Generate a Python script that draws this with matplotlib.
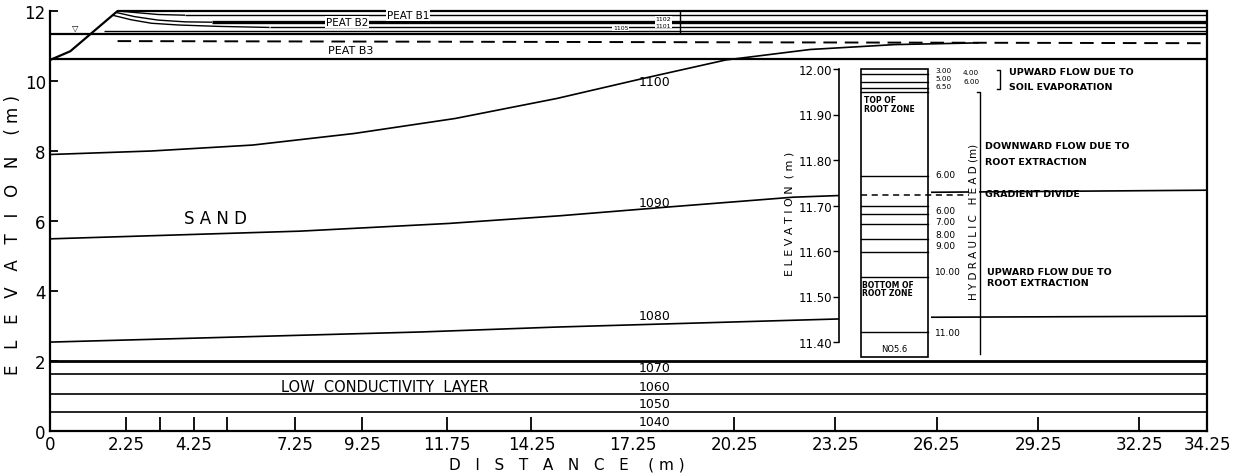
import matplotlib
matplotlib.use("Agg")
import matplotlib.pyplot as plt
from matplotlib.patches import Rectangle

plt.rcParams['font.family'] = ['DejaVu Sans']

# ---------------- cross-section data (m) ----------------
dist_ticks = [0, 2.25, 4.25, 7.25, 9.25, 11.75, 14.25, 17.25, 20.25, 23.25, 26.25, 29.25, 32.25, 34.25]
dist_labels = ["0", "2.25", "4.25", "7.25", "9.25", "11.75", "14.25", "17.25", "20.25",
               "23.25", "26.25", "29.25", "32.25", "34.25"]
dist_unmarked = [0, 17.25, 34.25]          # labelled positions drawn without a tick
dist_extra_marks = [3.25, 5.25]             # grid columns marked without a label
elev_ticks = [0, 2, 4, 6, 8, 10, 12]

# ground surface along the ditch bank and the peat
ground_x = [0.0, 0.6, 2.0, 34.25]
ground_y = [10.6, 10.85, 12.0, 12.0]

# horizontal boundaries / head lines inside the peat
peat_levels = [11.88, 11.68, 11.53, 11.44, 11.33]
peat_starts = [4.0, 4.8, 6.5, 1.6, 0.0]
peat_widths = [1.0, 2.4, 1.0, 1.0, 1.6]

# head contours bending up toward the ditch bank
bank_a_x = [2.0, 2.6, 3.2, 4.0]
bank_a_y = [12.0, 11.95, 11.9, 11.88]
bank_b_x = [1.95, 2.5, 3.2, 4.0, 4.8]
bank_b_y = [11.96, 11.84, 11.74, 11.69, 11.68]
bank_c_x = [1.85, 2.4, 3.0, 3.8, 5.0, 6.5]
bank_c_y = [11.88, 11.75, 11.65, 11.6, 11.56, 11.53]

water_table_x = [2.0, 34.25]
water_table_y = [11.14, 11.08]
peat_base = 10.62

# hydraulic head contours in the sand
head_1100_x = [0, 3, 6, 9, 12, 15, 17.5, 20, 22.5, 25, 27.5]
head_1100_y = [7.9, 8.0, 8.17, 8.5, 8.93, 9.5, 10.06, 10.6, 10.9, 11.04, 11.09]
head_1090_x = [0, 7.4, 11.8, 15.1, 18.3, 22.0, 26.0, 34.25]
head_1090_y = [5.49, 5.71, 5.93, 6.15, 6.4, 6.68, 6.82, 6.88]
head_1080_x = [0, 11, 15, 23.3, 26.0, 34.25]
head_1080_y = [2.54, 2.83, 2.97, 3.2, 3.25, 3.28]

# low conductivity layer lines
low_layer_levels = [2.0, 1.62, 1.07, 0.55]
low_layer_widths = [2.0, 1.2, 1.2, 1.2]

contour_text = ["1100", "1090", "1080", "1070", "1060", "1050", "1040"]
contour_text_y = [9.98, 6.52, 3.3, 1.82, 1.27, 0.78, 0.27]
contour_text_x = 17.9

# ---------------- root-zone column detail ----------------
col_top, col_bottom = 12.0, 11.367
col_lines = [11.990, 11.971, 11.958, 11.949, 11.765, 11.699, 11.681, 11.659,
             11.626, 11.598, 11.543, 11.422]
gradient_divide = 11.723
inset_ticks = [12.0, 11.9, 11.8, 11.7, 11.6, 11.5, 11.4]
inset_tick_labels = ["12.00", "11.90", "11.80", "11.70", "11.60", "11.50", "11.40"]
head_text = ["3.00", "5.00", "6.50", "6.00", "6.00", "7.00", "8.00", "9.00", "10.00", "11.00"]
head_text_y = [11.998, 11.980, 11.962, 11.769, 11.690, 11.665, 11.637, 11.612, 11.556, 11.420]
head_text_size = [5.2, 5.2, 5.2, 6.5, 6.5, 6.5, 6.5, 6.5, 6.5, 6.5]
head_text_right = ["4.00", "6.00"]
head_text_right_y = [11.994, 11.974]

fig = plt.figure(figsize=(12.38, 4.77), dpi=100)
W, H = 1238, 477
ax = fig.add_axes([50 / W, 45 / H, (1207 - 50) / W, (432 - 12) / H])
ax.set_xlim(0, 34.25)
ax.set_ylim(0, 12)
ax.spines['top'].set_visible(False)
for s in ('left', 'bottom', 'right'):
    ax.spines[s].set_linewidth(1.6)

ax.set_xticks(dist_ticks)
ax.set_xticklabels(dist_labels, fontsize=12)
ax.set_xticks(dist_extra_marks, minor=True)
ax.tick_params(axis='x', which='both', direction='in', length=10, width=1.3, pad=3)
for pos, tk in zip(dist_ticks, ax.xaxis.get_major_ticks()):
    if pos in dist_unmarked:
        tk.tick1line.set_visible(False)
ax.set_yticks(elev_ticks)
ax.set_yticklabels([str(v) for v in elev_ticks], fontsize=12)
ax.tick_params(axis='y', direction='in', length=6, width=1.3, pad=3)

ax.set_xlabel("D   I   S   T   A   N   C   E    ( m )", fontsize=11)
ax.xaxis.set_label_coords(0.447, -0.06)
ax.set_ylabel("E   L   E   V   A   T   I   O   N    ( m )", fontsize=12)
ax.yaxis.set_label_coords(-0.024, 0.47)

k = dict(color='black', solid_capstyle='butt')
ax.plot(ground_x, ground_y, lw=1.6, clip_on=False, **k)
for lvl, x0, lw in zip(peat_levels, peat_starts, peat_widths):
    ax.plot([x0, 34.25], [lvl, lvl], lw=lw, **k)
for bx, by in ((bank_a_x, bank_a_y), (bank_b_x, bank_b_y), (bank_c_x, bank_c_y)):
    ax.plot(bx, by, lw=1.0, **k)
ax.plot(water_table_x, water_table_y, lw=1.4, color='black', dashes=(7, 4))
ax.plot([0, 34.25], [peat_base, peat_base], lw=1.6, **k)

ax.plot(head_1100_x, head_1100_y, lw=1.2, **k)
ax.plot(head_1090_x, head_1090_y, lw=1.2, **k)
ax.plot(head_1080_x, head_1080_y, lw=1.2, **k)
for lvl, lw in zip(low_layer_levels, low_layer_widths):
    ax.plot([0, 34.25], [lvl, lvl], lw=lw, **k)

for t, ty in zip(contour_text, contour_text_y):
    ax.text(contour_text_x, ty, t, fontsize=9, ha='center', va='center')

ax.text(4.9, 6.1, "S A N D", fontsize=12, ha='center', va='center')
ax.text(9.9, 1.27, "LOW  CONDUCTIVITY  LAYER", fontsize=10.5, ha='center', va='center')

wb = dict(facecolor='white', edgecolor='none', pad=0.5)
ax.text(10.6, 11.88, "PEAT B1", fontsize=7.5, ha='center', va='center', bbox=wb)
ax.text(8.8, 11.69, "PEAT B2", fontsize=7.5, ha='center', va='center', bbox=wb)
ax.text(8.9, 10.88, "PEAT B3", fontsize=8, ha='center', va='center')
ax.text(0.75, 11.42, "\u25bd", fontsize=6, ha='center', va='bottom')

# small head values near the top of the peat
ax.text(16.9, 11.52, "1105", fontsize=4.5, ha='center', va='center', bbox=wb)
ax.text(18.15, 11.78, "1102", fontsize=4.5, ha='center', va='center', bbox=wb)
ax.text(18.15, 11.60, "1101", fontsize=4.5, ha='center', va='center', bbox=wb)
ax.plot([18.65, 18.65], [11.35, 12.0], lw=1.0, **k)

# ---------------- inset: head profile through the root zone ----------------
y_top_px, y_bot_px = 68, 360
per_px = 0.6 / (343 - 70)
ins = fig.add_axes([839 / W, (H - y_bot_px) / H, 92 / W, (y_bot_px - y_top_px) / H])
ins.set_xlim(0, 92)
ins.set_ylim(12.0 - (y_bot_px - 70) * per_px, 12.0 + (70 - y_top_px) * per_px)
ins.set_facecolor('white')
for s in ('top', 'right', 'bottom'):
    ins.spines[s].set_visible(False)
ins.spines['left'].set_bounds(11.4, 12.0)
ins.spines['left'].set_linewidth(1.2)
ins.set_xticks([])
ins.set_yticks(inset_ticks)
ins.set_yticklabels(inset_tick_labels, fontsize=8.5)
ins.tick_params(axis='y', direction='out', length=4, width=1.0, pad=1)
ins.set_ylabel("E L E V A T I O N  ( m )", fontsize=8, labelpad=3)

ins.add_patch(Rectangle((22, col_bottom), 67, col_top - col_bottom, fill=False,
                        lw=1.2, edgecolor='black', clip_on=False))
for lvl in col_lines:
    ins.plot([22, 89], [lvl, lvl], lw=1.0, color='black', clip_on=False)
ins.plot([22, 138], [gradient_divide, gradient_divide], lw=1.1, color='black',
         dashes=(4, 3), clip_on=False)
ins.text(25, 11.943, "TOP OF\nROOT ZONE", fontsize=5.5, ha='left', va='top',
         linespacing=0.95, fontweight='bold')
ins.text(23, 11.537, "BOTTOM OF\nROOT ZONE", fontsize=5.5, ha='left', va='top',
         linespacing=0.95, fontweight='bold')
ins.text(55, 11.385, "NO5.6", fontsize=6, ha='center', va='center')

for t, ty, fs in zip(head_text, head_text_y, head_text_size):
    ins.text(96, ty, t, fontsize=fs, ha='left', va='center', clip_on=False)
for t, ty in zip(head_text_right, head_text_right_y):
    ins.text(124, ty, t, fontsize=5.2, ha='left', va='center', clip_on=False)

ins.plot([138, 141, 141], [11.95, 11.95, 11.374], lw=1.0, color='black', clip_on=False)
ins.plot([158, 161, 161, 158], [11.997, 11.997, 11.955, 11.955], lw=1.0,
         color='black', clip_on=False)
ins.text(135, 11.665, "H Y D R A U L I C   H E A D (m)", fontsize=7.5, rotation=90,
         ha='center', va='center', clip_on=False,
         bbox=dict(facecolor='white', edgecolor='none', pad=0.2))

note = dict(fontsize=6.8, ha='left', va='center', fontweight='bold', clip_on=False)
ins.text(170, 11.994, "UPWARD FLOW DUE TO", **note)
ins.text(170, 11.962, "SOIL EVAPORATION", **note)
ins.text(146, 11.832, "DOWNWARD FLOW DUE TO", **note)
ins.text(146, 11.797, "ROOT EXTRACTION", **note)
ins.text(146, 11.726, "GRADIENT DIVIDE", **note)
ins.text(148, 11.555, "UPWARD FLOW DUE TO", **note)
ins.text(148, 11.530, "ROOT EXTRACTION", **note)

fig.savefig("out.png", dpi=100)
